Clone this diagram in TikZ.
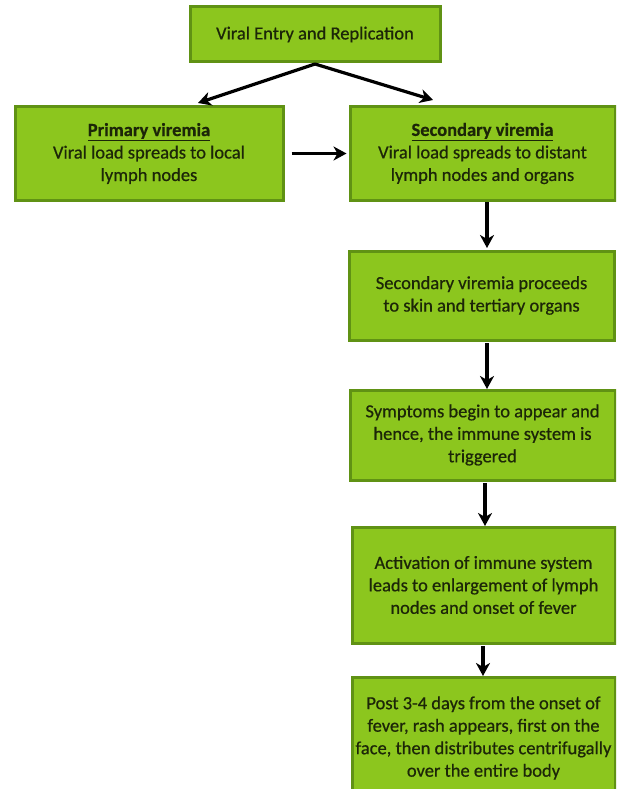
\documentclass[tikz,border=0pt]{standalone}
\usepackage{fontspec}
\setmainfont{Carlito}
\newfontfamily\boxfont[FakeBold=0.6]{Carlito}
\usetikzlibrary{arrows.meta}
\definecolor{boxfill}{RGB}{140,198,30}
\definecolor{boxline}{RGB}{96,146,20}
\definecolor{txt}{RGB}{28,38,8}
\tikzset{
  stagebox/.style={draw=boxline, line width=3pt, fill=boxfill, rectangle, align=center,
    text=txt, inner sep=0pt, font=\boxfont\fontsize{18.5}{22.5}\selectfont},
  flowarrow/.style={line width=3.2pt, -{Stealth[length=13pt,width=14pt,inset=4pt]}, black}
}
\begin{document}
\begin{tikzpicture}[x=1pt,y=-1pt]
\useasboundingbox (0,0) rectangle (616,789);
\clip (0,0) rectangle (616,789);
\node[stagebox, minimum width=250pt, minimum height=55pt] (entry) at (315,34.5) {Viral Entry and Replication};
\node[stagebox, minimum width=268pt, minimum height=93pt] (primary) at (149,153.5)
  {\underline{\textbf{Primary viremia}}\\Viral load spreads to local\\lymph nodes};
\node[stagebox, minimum width=265pt, minimum height=93pt] (secondary) at (482.5,153.5)
  {\underline{\textbf{Secondary viremia}}\\Viral load spreads to distant\\lymph nodes and organs};
\node[stagebox, minimum width=265pt, minimum height=89pt] (skin) at (481.5,295.5)
  {Secondary viremia proceeds\\to skin and tertiary organs};
\node[stagebox, minimum width=265pt, minimum height=90pt] (symptoms) at (482.5,435)
  {Symptoms begin to appear and\\hence, the immune system is\\triggered};
\node[stagebox, minimum width=263pt, minimum height=116pt] (immune) at (483.5,585)
  {Activation of immune system\\leads to enlargement of lymph\\nodes and onset of fever};
\node[stagebox, minimum width=263pt, minimum height=122pt] (rash) at (483.5,738)
  {Post 3-4 days from the onset of\\fever, rash appears, first on the\\face, then distributes centrifugally\\over the entire body};
\coordinate (split) at (315,64);
\coordinate (tipL) at (198,103);
\coordinate (tipR) at (433,100);
\draw[flowarrow] (split) -- (tipL);
\draw[flowarrow] (split) -- (tipR);
\draw[flowarrow] ([xshift=7pt]primary.east) -- ([xshift=-2pt]secondary.west);
\coordinate (a1s) at (487,202); \coordinate (a1e) at (487,248);
\coordinate (a2s) at (487,343); \coordinate (a2e) at (487,389);
\coordinate (a3s) at (485,483); \coordinate (a3e) at (485,526);
\coordinate (a4s) at (483,646); \coordinate (a4e) at (483,676);
\draw[flowarrow] (a1s) -- (a1e);
\draw[flowarrow] (a2s) -- (a2e);
\draw[flowarrow] (a3s) -- (a3e);
\draw[flowarrow] (a4s) -- (a4e);
\end{tikzpicture}
\end{document}
